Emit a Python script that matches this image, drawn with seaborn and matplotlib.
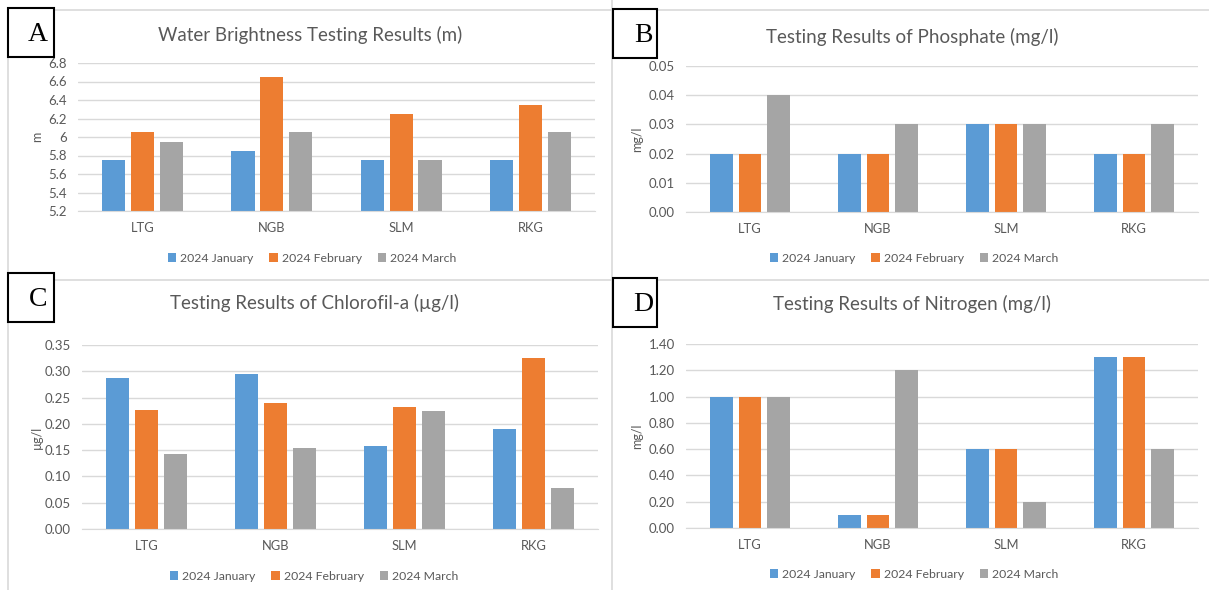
import pandas as pd
import matplotlib
matplotlib.use("Agg")
import matplotlib.pyplot as plt
import seaborn as sns
from matplotlib.patches import Rectangle
from matplotlib.lines import Line2D

sites = ["LTG", "NGB", "SLM", "RKG"]
months = ["2024 January", "2024 February", "2024 March"]

# values per month, in site order
brightness_jan = [5.75, 5.85, 5.75, 5.75]
brightness_feb = [6.05, 6.65, 6.25, 6.35]
brightness_mar = [5.95, 6.05, 5.75, 6.05]

phosphate_jan = [0.02, 0.02, 0.03, 0.02]
phosphate_feb = [0.02, 0.02, 0.03, 0.02]
phosphate_mar = [0.04, 0.03, 0.03, 0.03]

chlorofil_jan = [0.287, 0.295, 0.157, 0.190]
chlorofil_feb = [0.227, 0.240, 0.232, 0.325]
chlorofil_mar = [0.142, 0.155, 0.224, 0.078]

nitrogen_jan = [1.00, 0.10, 0.60, 1.30]
nitrogen_feb = [1.00, 0.10, 0.60, 1.30]
nitrogen_mar = [1.00, 1.20, 0.20, 0.60]

colors = ["#5B9BD5", "#ED7D31", "#A5A5A5"]
grid_c = "#D9D9D9"
text_c = "#595959"

sns.set_style("white")
plt.rcParams["font.family"] = ["Lato", "DejaVu Sans"]

W, H = 1209, 590
fig = plt.figure(figsize=(W / 100, H / 100), dpi=100)

# background layer in pixel coords for frames, labels, titles
bg = fig.add_axes([0, 0, 1, 1])
bg.set_xlim(0, W)
bg.set_ylim(H, 0)
bg.axis("off")

# panel frames
for x0, y0, x1, y1 in [(8, 9.5, 8, 590), (8, 9.5, 1209, 9.5), (612, 0, 612, 590), (8, 280, 1209, 280)]:
    bg.add_line(Line2D([x0, x1], [y0, y1], color=grid_c, lw=1.2))


def make_df(jan, feb, mar):
    rows = []
    for m, vals in zip(months, [jan, feb, mar]):
        for s, v in zip(sites, vals):
            rows.append({"site": s, "month": m, "value": v})
    return pd.DataFrame(rows)


panels = [
    # letter, box, title, title pos, ylabel, ylabel pos, axes px (l, r, top, bottom), ylim, ticks, fmt, legend pos, data
    ("A", (8, 8, 54, 57), "Water Brightness Testing Results (m)", (310, 35), "m", (37, 137),
     (78, 595, 63, 211), (5.2, 6.8), [5.2 + 0.2 * i for i in range(9)], "{:g}", (312, 258),
     make_df(brightness_jan, brightness_feb, brightness_mar)),
    ("B", (613, 9, 657, 58), "Testing Results of Phosphate (mg/l)", (912, 37), "mg/l", (637, 139),
     (686, 1198, 66, 212), (0, 0.05), [0.01 * i for i in range(6)], "{:.2f}", (914, 258),
     make_df(phosphate_jan, phosphate_feb, phosphate_mar)),
    ("C", (8, 273, 54, 322), "Testing Results of Chlorofil-a (\u00b5g/l)", (314, 303), "\u00b5g/l", (37, 437),
     (82, 598, 345, 529), (0, 0.35), [0.05 * i for i in range(8)], "{:.2f}", (314, 576),
     make_df(chlorofil_jan, chlorofil_feb, chlorofil_mar)),
    ("D", (613, 278, 657, 327), "Testing Results of Nitrogen (mg/l)", (912, 304), "mg/l", (637, 436),
     (686, 1198, 344, 528), (0, 1.4), [0.2 * i for i in range(8)], "{:.2f}", (914, 574),
     make_df(nitrogen_jan, nitrogen_feb, nitrogen_mar)),
]

for (letter, box, title, tpos, ylab, ypos, apx, ylim, ticks, fmt, lpos, df) in panels:
    l, r, t, b = apx
    ax = fig.add_axes([l / W, 1 - b / H, (r - l) / W, (b - t) / H])
    sns.barplot(data=df, x="site", y="value", hue="month", palette=colors,
                width=0.67, gap=0.2, saturation=1, linewidth=0, ax=ax)
    ax.set_ylim(*ylim)
    ax.set_yticks(ticks)
    ax.set_yticklabels([fmt.format(round(v, 2)) for v in ticks])
    ax.yaxis.grid(True, color=grid_c, lw=1)
    ax.set_axisbelow(True)
    for s in ["left", "right", "top"]:
        ax.spines[s].set_visible(False)
    ax.spines["bottom"].set_color(grid_c)
    ax.tick_params(axis="y", length=0, labelsize=9.5, labelcolor=text_c, pad=8)
    ax.tick_params(axis="x", length=0, labelsize=9.3, labelcolor=text_c, pad=8)
    ax.set_xlabel("")
    ax.set_ylabel("")
    handles, labels = ax.get_legend_handles_labels()
    ax.legend(handles, labels, loc="center", bbox_to_anchor=(lpos[0] / W, 1 - lpos[1] / H),
              bbox_transform=fig.transFigure, ncol=3, frameon=False, fontsize=8.8,
              handlelength=0.7, handleheight=0.7, handletextpad=0.3, columnspacing=1.3,
              labelcolor=text_c)

    bg.text(tpos[0], tpos[1], title, ha="center", va="center", fontsize=13.5, color=text_c)
    bg.text(ypos[0], ypos[1], ylab, ha="center", va="center", rotation=90, fontsize=9, color=text_c)
    x0, y0, x1, y1 = box
    bg.add_patch(Rectangle((x0, y0), x1 - x0, y1 - y0, fill=True, facecolor="white",
                           edgecolor="black", lw=1.5, zorder=5))
    bg.text(x0 + 30, (y0 + y1) / 2 + 2, letter, ha="center", va="center", fontsize=20,
            family="Liberation Serif", color="black", zorder=6)

fig.savefig("out.png", dpi=100)
